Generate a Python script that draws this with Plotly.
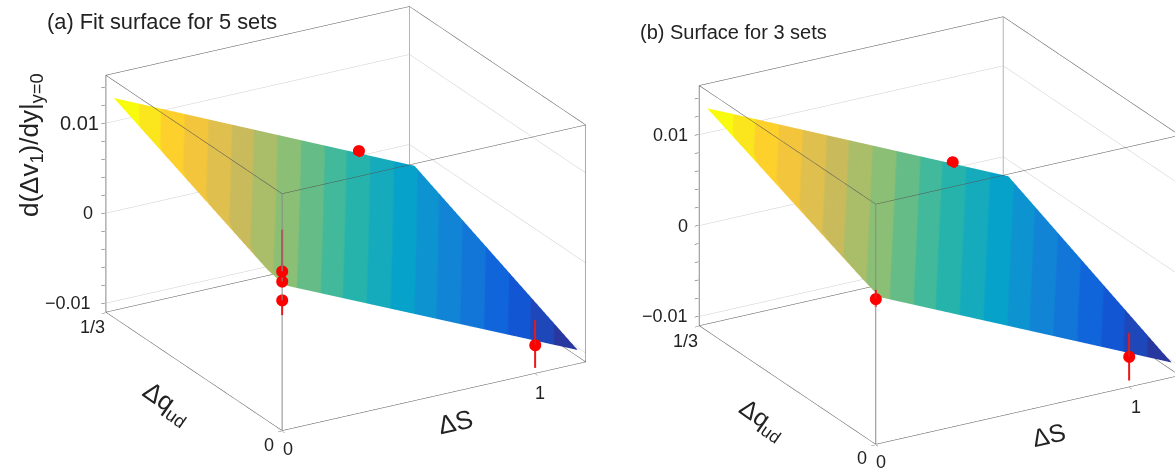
import plotly.graph_objects as go
import numpy as np

# ---- data ----
surf_x = [0.006, 0.042, 1.194]
surf_y = [0.0123, 0.03, 0.321]
surf_a = [[0.0054, 0.00437, -0.01013],
          [0.00563, 0.00485, -0.00966],
          [0.01324, 0.01279, -0.00185]]
surf_b = [[0.0057, 0.00443, -0.01004],
          [0.0061, 0.0049, -0.0096],
          [0.01333, 0.0129, -0.00163]]
# the last point of each panel is the one read at dS=1, dq=1/3; it is nudged along the
# line of sight so that it projects to the same place but draws in front of the surface
pts_a_x = [0, 0, 0, 1, 0.961]
pts_a_y = [0, 0, 0, 0, 0.3148]
pts_a_z = [0.00671, 0.00559, 0.0035, -0.00785, 0.00154]
pts_a_up = [0.00463, 0, 0, 0.00277, 0]
pts_a_dn = [0, 0, 0.00166, 0.00254, 0]
pts_b_x = [0, 1, 0.961]
pts_b_y = [0, 0, 0.3148]
pts_b_z = [0.00498, -0.00768, 0.00164]
pts_b_up = [0.00099, 0.00263, 0]
pts_b_dn = [0.00087, 0.00263, 0]
x_range = [0, 1.2]
y_range = [0, 1/3]
z_range_a = [-0.011, 0.01533]
z_range_b = [-0.01102, 0.0154]
z_major = [-0.01, 0, 0.01]
z_labels = ["\u22120.01", "0", "0.01"]
z_all = [-0.01, -0.008, -0.006, -0.004, -0.002, 0, 0.002, 0.004, 0.006, 0.008, 0.01, 0.012, 0.014]
bird = [(0.16,0.22,0.62),(0.0592,0.3599,0.8684),(0.0780,0.5041,0.8385),(0.0232,0.6419,0.7914),
        (0.1802,0.7178,0.6425),(0.5301,0.7492,0.4662),(0.8186,0.7328,0.3499),(0.9956,0.7862,0.1968),(0.9764,0.9832,0.0539)]
FONT = "Liberation Sans"
INK = "#222222"
PAD = 0.002

def stepped():
    n = 20
    b = np.array(bird)
    out = []
    for i in range(n):
        t = i/(n-1)*8
        c = [np.interp(t, range(9), b[:, k]) for k in range(3)]
        s = "rgb(%d,%d,%d)" % tuple(int(round(v*255)) for v in c)
        out += [[i/n, s], [(i+1)/n, s]]
    return out

def seg(pairs):
    xs, ys, zs = [], [], []
    for p, q in pairs:
        xs += [p[0], q[0], None]; ys += [p[1], q[1], None]; zs += [p[2], q[2], None]
    return xs, ys, zs

def lines(scene, pairs, color, width):
    a, b, c = seg(pairs)
    return go.Scatter3d(x=a, y=b, z=c, mode="lines", scene=scene, line=dict(color=color, width=width),
                        hoverinfo="skip", showlegend=False)

def panel(scene, sx, sy, sz, zr, px, py, pz, up, dn):
    x0, x1 = x_range; y0, y1 = y_range; z0, z1 = zr
    tr = []
    tr.append(go.Surface(x=sx, y=sy, z=sz, scene=scene, colorscale=stepped(), cmin=np.min(sz), cmax=np.max(sz),
                         showscale=False, hoverinfo="skip",
                         lighting=dict(ambient=1, diffuse=0, specular=0, roughness=1, fresnel=0),
                         contours=dict(x=dict(highlight=False), y=dict(highlight=False), z=dict(highlight=False))))
    grid = []
    for z in z_major:
        grid += [((x0, y1, z), (x1, y1, z)), ((x1, y0, z), (x1, y1, z))]
    tr.append(lines(scene, grid, "#cfcfcf", 1))
    tr.append(lines(scene, [((x1, y1, z0), (x1, y1, z1))], "#b5b5b5", 2))
    thin = [((x0, y1, z1), (x1, y1, z1)), ((x1, y0, z1), (x1, y1, z1)),
            ((x0, y1, z0), (x1, y1, z0)), ((x1, y0, z0), (x1, y1, z0)),
            ((x0, y0, z1), (x1, y0, z1)), ((x0, y0, z1), (x0, y1, z1)),
            ((x0, y0, z0), (x1, y0, z0)), ((x0, y0, z0), (x0, y1, z0)), ((x1, y0, z0), (x1, y0, z1))]
    tr.append(lines(scene, thin, "#555555", 1))
    tr.append(lines(scene, [((x0, y0, z0), (x0, y0, z1)), ((x0, y1, z0), (x0, y1, z1))], "#8a8a8a", 2))
    bars = [((a, b, c - m), (a, b, c + p)) for a, b, c, p, m in zip(px, py, pz, up, dn) if p or m]
    tr.append(lines(scene, bars, "#e81818", 4))
    tr.append(go.Scatter3d(x=px, y=py, z=pz, mode="markers", scene=scene, hoverinfo="skip", showlegend=False,
                           marker=dict(color="#ff0000", size=7, line=dict(width=0))))
    return tr

def axis(rng, vals, ln):
    p = PAD*(rng[1]-rng[0])
    return dict(range=[rng[0]-p, rng[1]+p], autorange=False, showgrid=False, zeroline=False, showline=False, showbackground=False,
                showspikes=False, title=dict(text=""), tickmode="array", tickvals=vals, ticks="outside", ticklen=ln,
                tickcolor="#444444", showticklabels=False)

def ann(x, y, z, text, size, ax="center", ay="middle", dx=0, dy=0):
    return dict(x=x, y=y, z=z, text=text, showarrow=False, xanchor=ax, yanchor=ay, xshift=dx, yshift=dy,
                font=dict(family=FONT, size=size, color=INK))

def scene_layout(domain, zr, asp, aspz, eye, center, zlab, onedx):
    sc = 1 + 2*PAD
    return dict(domain=dict(x=domain, y=[0, 1]), aspectmode="manual", aspectratio=dict(x=asp*sc, y=asp*sc, z=aspz*sc),
                xaxis=axis(x_range, [0, 1], 4), yaxis=axis(y_range, [0, 1/3], 4), zaxis=axis(zr, z_all, 6),
                bgcolor="white",
                camera=dict(projection=dict(type="orthographic"), up=dict(x=0, y=0, z=1), eye=eye, center=center),
                annotations=[ann(0, 0, zr[0], "0", 18, "left", "top", -1, -6),
                             ann(0, 0, zr[0], "0", 18, "right", "top", -6, -2),
                             ann(1, 0, zr[0], "1", 18, "center", "top", onedx, -8),
                             ann(0, 1/3, zr[0], "1/3", 18, "right", "top", 1, -3)]
                            + [ann(0, 1/3, v, t, s, "right", "middle", dx, 0)
                               for v, t, (s, dx) in zip(z_major, z_labels, zlab)])

dirv = np.array([-0.462, -0.796, 0.39])
rv = np.array([0.865, -0.502, 0.0])
uv = np.array([0.196, 0.337, 0.921])
K = 236.0

def cam(d, dx, dy):
    c = -(dx*rv + dy*uv)/K
    e = c + d*dirv
    return dict(zip("xyz", e.tolist())), dict(zip("xyz", c.tolist()))

eye_a, cen_a = cam(2.0, 52, 16.5)
eye_b, cen_b = cam(2.0, 57.75, 4.5)
fig = go.Figure()
for t in panel("scene", surf_x, surf_y, surf_a, z_range_a, pts_a_x, pts_a_y, pts_a_z, pts_a_up, pts_a_dn):
    fig.add_trace(t)
for t in panel("scene2", surf_x, surf_y, surf_b, z_range_b, pts_b_x, pts_b_y, pts_b_z, pts_b_up, pts_b_dn):
    fig.add_trace(t)

def pa(x, y, text, size, angle=0, ax="center"):
    return dict(x=x/1175, y=1-y/470, xref="paper", yref="paper", text=text, showarrow=False, textangle=angle, xanchor=ax, yanchor="middle",
                font=dict(family=FONT, size=size, color=INK))

fig.update_layout(width=1175, height=470, margin=dict(l=0, r=0, t=0, b=0), paper_bgcolor="white", showlegend=False,
                  scene=scene_layout([0, 0.5], z_range_a, 1.494, 1.095, eye_a, cen_a,
                                     [(18, -13), (18, -11), (20, -5)], 5),
                  scene2=scene_layout([0.5, 1], z_range_b, 1.496, 1.11, eye_b, cen_b,
                                      [(18, -9), (18, -9), (18, -9)], 8),
                  annotations=[pa(45, 22, "(a) Fit surface for 5 sets", 21.8, 0, "left"),
                               pa(638, 32, "(b) Surface for 3 sets", 20, 0, "left"),
                               pa(30, 145, "d(\u0394v<sub>1</sub>)/dy|<sub>y=0</sub>", 26, -90),
                               pa(455, 422, "\u0394S", 26, -13),
                               pa(167, 403, "\u0394q<sub>ud</sub>", 26, 35),
                               pa(1048, 435, "\u0394S", 25, -13),
                               pa(762, 420, "\u0394q<sub>ud</sub>", 25, 35)])
fig.write_html("out.html", config=dict(displayModeBar=False), post_script="document.body.style.margin='0';")
